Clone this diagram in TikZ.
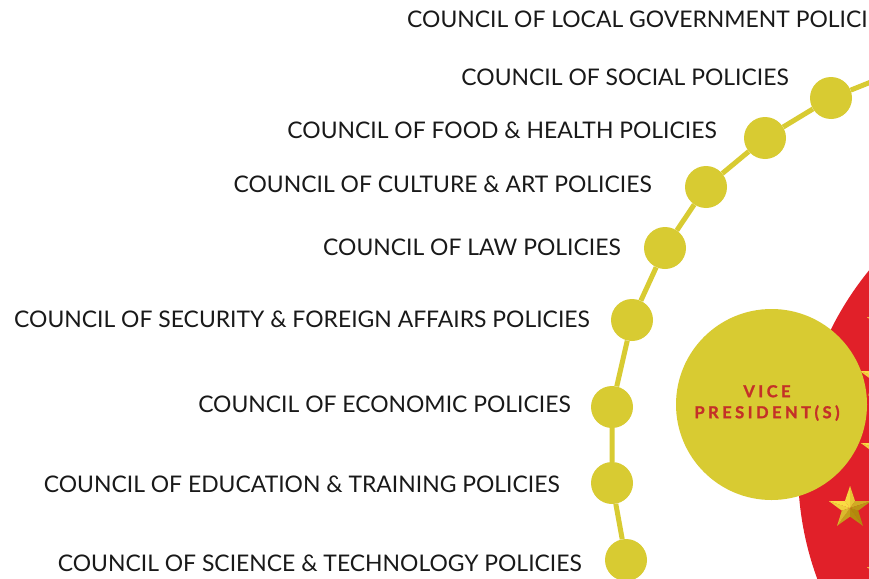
\documentclass[tikz,border=0pt]{standalone}
\usepackage{fontspec}
\setmainfont{Lato}
\newfontfamily\vpfont[LetterSpace=21,BoldFeatures={FakeBold=1.3}]{Lato}
\definecolor{cyel}{RGB}{216,203,50}
\definecolor{cred}{RGB}{225,32,41}
\definecolor{cvp}{RGB}{196,48,40}
\definecolor{ctxt}{RGB}{25,25,25}
\definecolor{goldA}{RGB}{252,222,70}
\definecolor{goldB}{RGB}{175,135,10}
\tikzset{
  dot/.style={circle,fill=cyel,minimum size=42pt,inner sep=0pt},
  chain/.style={draw=cyel,line width=5pt},
  lab/.style={font=\fontsize{22.9}{26}\selectfont,text=ctxt,inner sep=0pt},
  vice/.style={circle,fill=cyel,minimum size=191pt,inner sep=0pt},
  vptext/.style={font=\vpfont\bfseries\fontsize{16.5}{21}\selectfont,text=cvp,align=center,inner sep=0pt},
  gstar/.pic={
    \foreach \i in {0,...,4}{
      \pgfmathsetmacro\a{90+72*\i}
      \pgfmathsetmacro\bl{50+48*cos(\a+18-135)}
      \pgfmathsetmacro\br{50+48*cos(\a-18-135)}
      \fill[goldA!\bl!goldB] (0,0) -- (\a:22pt) -- (\a+36:8.6pt) -- cycle;
      \fill[goldA!\br!goldB] (0,0) -- (\a:22pt) -- (\a-36:8.6pt) -- cycle;
    }
  }
}
\begin{document}
\begin{tikzpicture}[x=1pt,y=-1pt]
\useasboundingbox (0,0) rectangle (869,578);
\clip (0,0) rectangle (869,578);
\fill[white] (0,0) rectangle (869,578);
% red circle with stars
\fill[cred] (1114,470) circle[radius=316pt];
\pic at (888,324) {gstar};
\pic at (881,378) {gstar};
\pic at (882,450) {gstar};
\pic at (850,508) {gstar};
\pic at (888,574) {gstar};
% vice president circle
\node[vice] (vp) at (771.5,404.5) {};
\node[vptext] (vpt) at (767,403) {VICE\\PRESIDENT(S)};
% chain of councils
\coordinate (top) at (886,76);
\coordinate (bot) at (630,600);
\node[dot] (d1) at (831,98) {};
\node[dot] (d2) at (765,138) {};
\node[dot] (d3) at (706,187) {};
\node[dot] (d4) at (665,248) {};
\node[dot] (d5) at (632,320) {};
\node[dot] (d6) at (612,407) {};
\node[dot] (d7) at (612,483) {};
\node[dot] (d8) at (626,560) {};
\draw[chain] (top) -- (d1) -- (d2) -- (d3) -- (d4) -- (d5) -- (d6) -- (d7) -- (d8) -- (bot);
% labels
\node[lab,anchor=base west] (t1) at (407,28) {COUNCIL OF LOCAL GOVERNMENT POLICIES};
\node[lab,anchor=base east] (t2) at (789,85) {COUNCIL OF SOCIAL POLICIES};
\node[lab,anchor=base east] (t3) at (717,138) {COUNCIL OF FOOD \& HEALTH POLICIES};
\node[lab,anchor=base east] (t4) at (652,192) {COUNCIL OF CULTURE \& ART POLICIES};
\node[lab,anchor=base east] (t5) at (621,255) {COUNCIL OF LAW POLICIES};
\node[lab,anchor=base east] (t6) at (590,327) {COUNCIL OF SECURITY \& FOREIGN AFFAIRS POLICIES};
\node[lab,anchor=base east] (t7) at (571,412) {COUNCIL OF ECONOMIC POLICIES};
\node[lab,anchor=base east] (t8) at (560,492) {COUNCIL OF EDUCATION \& TRAINING POLICIES};
\node[lab,anchor=base east] (t9) at (582,571) {COUNCIL OF SCIENCE \& TECHNOLOGY POLICIES};
\end{tikzpicture}
\end{document}
